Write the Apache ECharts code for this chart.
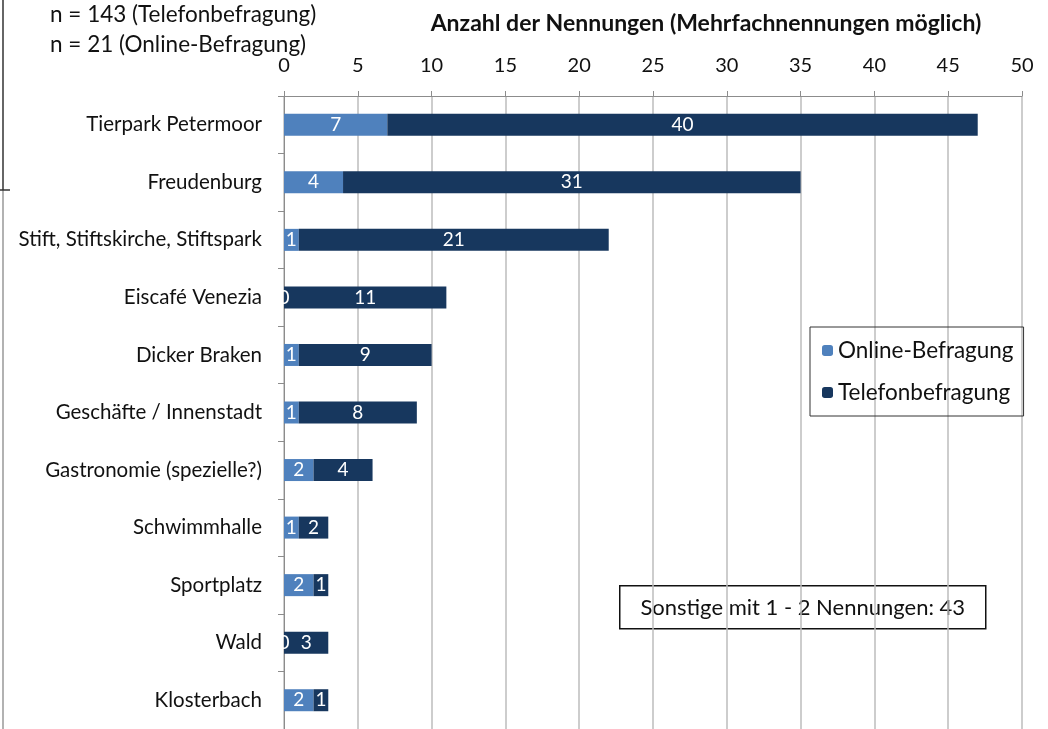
<!DOCTYPE html>
<html style="height: 100%">
<head>
<meta charset="utf-8">
<script src="https://cdn.jsdelivr.net/npm/echarts@6/dist/echarts.min.js"></script>
</head>
<body style="height: 100%; margin: 0; background: #fff">
<div id="container" style="width: 1048px; height: 729px"></div>
<script type="text/javascript">
var categories = ['Tierpark Petermoor', 'Freudenburg', 'Stift, Stiftskirche, Stiftspark', 'Eiscafé Venezia',
    'Dicker Braken', 'Geschäfte / Innenstadt', 'Gastronomie (spezielle?)', 'Schwimmhalle',
    'Sportplatz', 'Wald', 'Klosterbach'];
var online = [7, 4, 1, 0, 1, 1, 2, 1, 2, 0, 2];
var telefon = [40, 31, 21, 11, 9, 8, 4, 2, 1, 3, 1];

var font = 'Lato, "Open Sans", sans-serif';
var dom = document.getElementById('container');
var myChart = echarts.init(dom);

var option = {
    animation: false,
    textStyle: { fontFamily: font },
    title: {
        text: 'Anzahl der Nennungen (Mehrfachnennungen möglich)',
        left: 701,
        textAlign: 'center',
        top: 7,
        textStyle: { fontFamily: font, fontSize: 23, fontWeight: 'bold', color: '#111' }
    },
    legend: {
        orient: 'vertical',
        left: 810,
        top: 327,
        width: 210,
        padding: [12, 10, 12, 12],
        itemGap: 19,
        itemWidth: 11,
        itemHeight: 11,
        borderColor: '#333',
        borderWidth: 1,
        textStyle: { fontFamily: font, fontSize: 22.5, color: '#111' },
        data: ['Online-Befragung', 'Telefonbefragung']
    },
    grid: { left: 284, top: 96, width: 738, height: 638 },
    xAxis: {
        type: 'value',
        position: 'top',
        min: 0,
        max: 50,
        interval: 5,
        axisLine: { show: true, lineStyle: { color: '#8c8c8c' } },
        axisTick: { show: true, length: 5, lineStyle: { color: '#8c8c8c' } },
        axisLabel: { fontFamily: font, fontSize: 20, color: '#111', margin: 20 },
        splitLine: { show: true, lineStyle: { color: '#bdbdbd', width: 1.5 } }
    },
    yAxis: {
        type: 'category',
        inverse: true,
        data: categories,
        axisLine: { show: true, lineStyle: { color: '#8c8c8c' } },
        axisTick: { show: true, length: 6, lineStyle: { color: '#8c8c8c' } },
        axisLabel: { fontFamily: font, fontSize: 20.5, color: '#111', margin: 22 }
    },
    series: [
        {
            name: 'Online-Befragung',
            type: 'bar',
            stack: 'total',
            barWidth: 22,
            itemStyle: { color: '#4f81bd' },
            label: { show: true, position: 'inside', color: '#fff', fontFamily: font, fontSize: 19 },
            data: online
        },
        {
            name: 'Telefonbefragung',
            type: 'bar',
            stack: 'total',
            barWidth: 22,
            itemStyle: { color: '#17375e' },
            label: { show: true, position: 'inside', color: '#fff', fontFamily: font, fontSize: 19 },
            data: telefon
        }
    ],
    graphic: [
        {
            type: 'text', left: 50, top: 3,
            style: { text: 'n = 143 (Telefonbefragung)', fontFamily: font, fontSize: 22.5, fill: '#111' }
        },
        {
            type: 'text', left: 50, top: 33,
            style: { text: 'n = 21 (Online-Befragung)', fontFamily: font, fontSize: 22.5, fill: '#111' }
        },
        {
            type: 'group', left: 619, top: 585,
            children: [
                {
                    type: 'rect', shape: { x: 0, y: 0, width: 366, height: 43 },
                    style: { fill: '#fff', stroke: '#111', lineWidth: 1.5 }
                },
                {
                    type: 'text', x: 183, y: 22,
                    style: { text: 'Sonstige mit 1 - 2 Nennungen: 43', fontFamily: font, fontSize: 22,
                        fill: '#111', align: 'center', verticalAlign: 'middle' }
                }
            ]
        },
        {
            type: 'line', shape: { x1: 3, y1: 0, x2: 3, y2: 190 },
            style: { stroke: '#333', lineWidth: 1.5 }
        },
        {
            type: 'line', shape: { x1: 3, y1: 190, x2: 3, y2: 729 },
            style: { stroke: '#999', lineWidth: 1.5 }
        },
        {
            type: 'line', shape: { x1: 0, y1: 190, x2: 10, y2: 190 },
            style: { stroke: '#333', lineWidth: 1.5 }
        }
    ]
};

myChart.setOption(option);
</script>
</body>
</html>
